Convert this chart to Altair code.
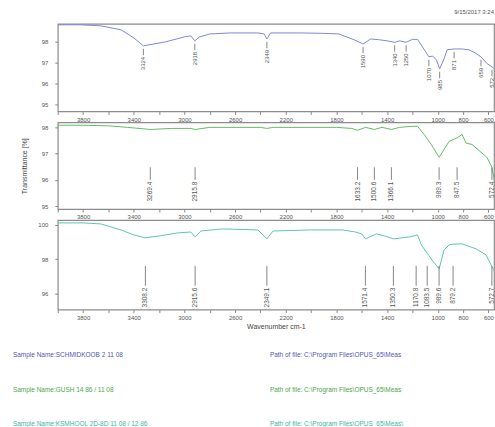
import altair as alt
import pandas as pd

# ---- spectrum 1 (blue) ----
wn_1 = [4000, 3820, 3660, 3500, 3400, 3324, 3240, 3150, 3000, 2950, 2918, 2880, 2800, 2640,
        2420, 2370, 2349, 2320, 2090, 1900, 1780, 1660, 1590, 1530, 1460, 1400, 1340, 1300,
        1250, 1200, 1160, 1130, 1070, 1040, 1010, 985, 950, 926, 871, 808, 753, 700, 659,
        610, 572, 520, 450, 400]
t_1 = [98.82, 98.82, 98.77, 98.58, 98.19, 97.81, 97.90, 98.00, 98.24, 98.29, 98.05, 98.24,
       98.38, 98.43, 98.43, 98.38, 98.14, 98.43, 98.43, 98.41, 98.38, 98.10, 97.90, 98.14,
       98.10, 98.05, 97.98, 98.05, 97.98, 98.12, 98.12, 97.85, 97.28, 97.32, 97.13, 96.70,
       97.20, 97.62, 97.66, 97.66, 97.62, 97.45, 97.28, 96.95, 96.80, 96.55, 96.30, 96.15]
peaks_1 = [3324, 2918, 2349, 1590, 1340, 1250, 1070, 985, 871, 659, 572]

# ---- spectrum 2 (green) ----
wn_2 = [4000, 3800, 3600, 3450, 3269, 3100, 2950, 2915, 2800, 2400, 2349, 2300, 2000, 1800,
        1680, 1633, 1570, 1500, 1440, 1366, 1300, 1200, 1160, 1107, 1052, 989, 910, 847,
        808, 777, 730, 612, 572, 540, 480, 400]
t_2 = [98.08, 98.08, 98.06, 98.00, 97.92, 97.96, 97.96, 97.92, 98.00, 98.00, 97.96, 98.00,
       98.00, 98.00, 97.96, 97.89, 98.00, 97.92, 98.00, 97.92, 98.00, 98.04, 98.04, 97.73,
       97.35, 96.86, 97.47, 97.60, 97.73, 97.40, 97.35, 96.86, 96.48, 95.60, 95.20, 94.95]
peaks_2 = [3269.4, 2915.8, 1633.2, 1500.6, 1366.1, 989.3, 847.5, 572.4]

# ---- spectrum 3 (teal) ----
wn_3 = [4000, 3800, 3660, 3500, 3400, 3308, 3200, 3050, 2950, 2915, 2870, 2700, 2420, 2349,
        2300, 2000, 1750, 1650, 1600, 1571, 1484, 1420, 1350, 1225, 1160, 1130, 1083, 1040,
        989, 950, 910, 879, 808, 698, 619, 572, 520, 450, 400]
t_3 = [100.12, 100.12, 100.06, 99.71, 99.42, 99.25, 99.36, 99.54, 99.59, 99.30, 99.65, 99.77,
       99.71, 99.19, 99.65, 99.71, 99.71, 99.59, 99.48, 99.19, 99.48, 99.36, 99.19, 99.30,
       99.42, 98.84, 98.35, 97.90, 97.45, 98.55, 98.84, 98.88, 98.90, 98.61, 98.26, 97.57,
       96.90, 96.40, 96.10]
peaks_3 = [3308.2, 2915.6, 2349.1, 1571.4, 1350.3, 1170.8, 1083.5, 989.6, 879.2, 572.7]

# ---- file info lines ----
sample_names = ["Sample Name:SCHMIDKOOB 2 11 08",
                "Sample Name:GUSH 14 86 / 11 08",
                "Sample Name:KSMHOOL 2D-8D 11 08 / 12 86"]
file_paths = ["Path of file: C:\\Program Files\\OPUS_65\\Meas",
              "Path of file: C:\\Program Files\\OPUS_65\\Meas",
              "Path of file: C:\\Program Files\\OPUS_65\\Meas\\"]

COLORS = ["#7f86d8", "#62bb64", "#5ec4b6"]
TEXT_COLORS = ["#5058b8", "#4aa64e", "#3fb3aa"]
FONT = "Liberation Sans"

X_LABELED = [3800, 3400, 3000, 2600, 2200, 1800, 1400, 1000, 800, 600]
X_TICKS = list(range(4000, 599, -200))
X_DOMAIN = [4000, 556]
PLOT_W = 438


def x_enc(title):
    expr = ("indexof([" + ",".join(str(v) for v in X_LABELED) +
            "], datum.value) >= 0 ? datum.value : ''")
    return alt.X(
        "wn:Q",
        scale=alt.Scale(domain=X_DOMAIN, nice=False, zero=False),
        axis=alt.Axis(values=X_TICKS, labelExpr=expr, title=title, labelFlush=False,
                      titleFontSize=7, titleFontWeight="normal", titleColor="#444",
                      titlePadding=2),
    )


def y_axis(ticks, title):
    return alt.Axis(values=ticks, format="d", title=title, titleFontSize=7,
                    titleFontWeight="normal", titleColor="#444", titlePadding=14,
                    labelOverlap=False)


def y_enc(field, domain, ticks, title):
    return alt.Y(field, scale=alt.Scale(domain=domain, nice=False, zero=False),
                 axis=y_axis(ticks, title))


def y_at(value, domain, ticks, title):
    return alt.Y(datum=value, scale=alt.Scale(domain=domain, nice=False, zero=False),
                 axis=y_axis(ticks, title))


def spectrum(wn, t):
    return pd.DataFrame({"wn": wn, "t": t})


s1, s2, s3 = spectrum(wn_1, t_1), spectrum(wn_2, t_2), spectrum(wn_3, t_3)

# top panel: markers hang just below each absorption minimum
p1 = pd.DataFrame({"wn": peaks_1}).merge(s1, on="wn")
yd1, yt1 = [94.66, 98.87], [95, 96, 97, 98]
top = alt.layer(
    alt.Chart(s1).mark_line(color=COLORS[0], strokeWidth=1, clip=True).encode(
        x=x_enc(None), y=y_enc("t:Q", yd1, yt1, None)),
    alt.Chart(p1).transform_calculate(a="datum.t - 0.14", b="datum.t - 0.45")
    .mark_rule(color="#666", strokeWidth=0.8, clip=True).encode(
        x=x_enc(None), y=y_enc("a:Q", yd1, yt1, None), y2="b:Q"),
    alt.Chart(p1).transform_calculate(c="datum.t - 0.53")
    .mark_text(angle=270, align="right", baseline="middle", fontSize=6, font=FONT,
               color="#555", clip=True).encode(
        x=x_enc(None), y=y_enc("c:Q", yd1, yt1, None),
        text=alt.Text("wn:Q", format="d")),
).properties(
    width=PLOT_W, height=88,
    title=alt.TitleParams("9/15/2017 3:24", anchor="end", fontSize=6, font=FONT,
                          fontWeight="normal", color="#555", offset=9),
)

# middle panel
yd2, yt2 = [94.89, 98.19], [95, 96, 97, 98]
ttl2 = "Transmittance [%]"
pk2 = pd.DataFrame({"wn": peaks_2})
middle = alt.layer(
    alt.Chart(s2).mark_line(color=COLORS[1], strokeWidth=1, clip=True).encode(
        x=x_enc(None), y=y_enc("t:Q", yd2, yt2, ttl2)),
    alt.Chart(pk2).mark_rule(color="#666", strokeWidth=0.8, clip=True).encode(
        x=x_enc(None), y=y_at(96.48, yd2, yt2, ttl2), y2=alt.datum(96.00)),
    alt.Chart(pk2).mark_text(angle=270, align="right", baseline="middle", fontSize=6.5,
                             font=FONT, color="#555", clip=True).encode(
        x=x_enc(None), y=y_at(95.93, yd2, yt2, ttl2),
        text=alt.Text("wn:Q", format=".1f")),
).properties(width=PLOT_W, height=87)

# bottom panel
yd3, yt3 = [95.07, 100.29], [96, 98, 100]
xt3 = "Wavenumber cm-1"
pk3 = pd.DataFrame({"wn": peaks_3})
bottom = alt.layer(
    alt.Chart(s3).mark_line(color=COLORS[2], strokeWidth=1, clip=True).encode(
        x=x_enc(xt3), y=y_enc("t:Q", yd3, yt3, None)),
    alt.Chart(pk3).mark_rule(color="#666", strokeWidth=0.8, clip=True).encode(
        x=x_enc(xt3), y=y_at(97.62, yd3, yt3, None), y2=alt.datum(96.46)),
    alt.Chart(pk3).mark_text(angle=270, align="right", baseline="middle", fontSize=6.5,
                             font=FONT, color="#555", clip=True).encode(
        x=x_enc(xt3), y=y_at(96.35, yd3, yt3, None),
        text=alt.Text("wn:Q", format=".1f")),
).properties(width=PLOT_W, height=90)

# file information block under the spectra
info = pd.DataFrame({
    "row": [0, 1, 2, 0, 1, 2],
    "col": [0, 0, 0, 1, 1, 1],
    "txt": sample_names + file_paths,
})
info_block = alt.Chart(info).mark_text(align="left", baseline="middle", fontSize=6.5,
                                       font=FONT).encode(
    x=alt.X("col:Q", scale=alt.Scale(domain=[0, 1], range=[-45, 213]), axis=None),
    y=alt.Y("row:Q", scale=alt.Scale(domain=[0, 2], range=[35, 104]), axis=None),
    color=alt.Color("row:N", scale=alt.Scale(domain=[0, 1, 2], range=TEXT_COLORS),
                    legend=None),
    text="txt:N",
).properties(width=PLOT_W, height=107, view=alt.ViewBackground(stroke="transparent"))

chart = alt.vconcat(top, middle, bottom, info_block, spacing=11, bounds="flush").properties(
    padding={"left": 12, "right": 0, "top": 7, "bottom": 0},
    background="white",
).configure_view(
    stroke="#8c8c8c", strokeWidth=1.2,
).configure_axis(
    labelFont=FONT, titleFont=FONT, labelFontSize=6, labelColor="#555",
    tickColor="#888", tickSize=3, labelPadding=2, domain=False, grid=False,
).configure_axisY(
    labelPadding=7,
)

chart.save("out.html", embed_options={"renderer": "svg", "actions": False})
